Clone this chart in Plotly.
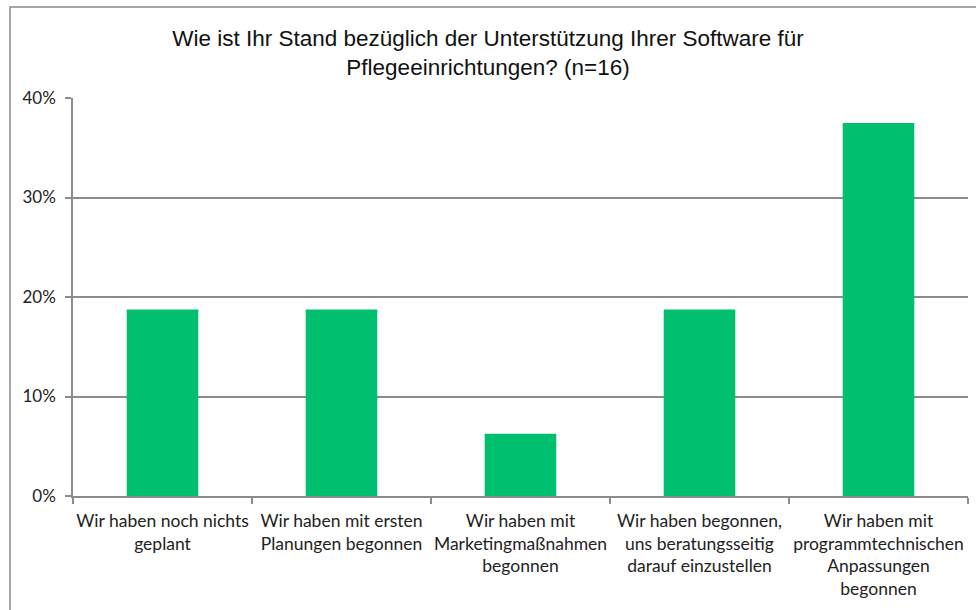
import plotly.graph_objects as go

categories = [
    "Wir haben noch nichts<br>geplant",
    "Wir haben mit ersten<br>Planungen begonnen",
    "Wir haben mit<br>Marketingmaßnahmen<br>begonnen",
    "Wir haben begonnen,<br>uns beratungsseitig<br>darauf einzustellen",
    "Wir haben mit<br>programmtechnischen<br>Anpassungen<br>begonnen",
]
values = [0.1875, 0.1875, 0.0625, 0.1875, 0.375]
y_ticks = [0, 0.1, 0.2, 0.3, 0.4]
y_tick_labels = ["0%", "10%", "20%", "30%", "40%"]
title_text = "Wie ist Ihr Stand bezüglich der Unterstützung Ihrer Software für<br>Pflegeeinrichtungen? (n=16)"

W, H = 976, 610
ml, mr, mt, mb = 73, 8, 98, 114
pw = W - ml - mr
ph = H - mt - mb

fig = go.Figure(go.Bar(
    x=categories, y=values,
    marker=dict(color="#00BF6F", line=dict(width=0)),
    hoverinfo="skip",
))

fig.update_layout(
    width=W, height=H,
    margin=dict(l=ml, r=mr, t=mt, b=mb, autoexpand=False),
    paper_bgcolor="white", plot_bgcolor="white",
    bargap=0.6,
    showlegend=False,
    title=dict(
        text=title_text,
        x=0.5, xref="container", xanchor="center",
        y=1 - 46 / H, yref="container", yanchor="top",
        font=dict(family="Liberation Sans, Arial", size=22.5, color="#111"),
    ),
    font=dict(family="Lato, Carlito, Calibri", size=17.5, color="#222"),
)

fig.update_xaxes(
    type="category", automargin=False,
    showline=True, linecolor="#8c8c8c", linewidth=1.5,
    ticks="outside", tickson="boundaries", ticklen=6, tickcolor="#8c8c8c", tickwidth=1.5,
    ticklabelstandoff=8,
    showgrid=False,
    tickfont=dict(family="Lato, Carlito, Calibri", size=17.5, color="#222"),
    tickangle=0,
)
fig.update_yaxes(
    range=[0, 0.4], automargin=False,
    tickvals=y_ticks, ticktext=y_tick_labels,
    showline=True, linecolor="#8c8c8c", linewidth=1.5,
    ticks="outside", ticklen=6, tickcolor="#8c8c8c", tickwidth=1.5,
    ticklabelstandoff=6,
    showgrid=True, gridcolor="#8c8c8c", gridwidth=1.5,
    zeroline=False,
    tickfont=dict(family="Lato, Carlito, Calibri", size=17, color="#222"),
)

# outer chart border
fig.add_shape(
    type="rect", xref="paper", yref="paper",
    x0=(10 - ml) / pw, x1=1.2,
    y0=-1.0, y1=(H - mb - 7) / ph,
    line=dict(color="#8c8c8c", width=1.5),
    fillcolor="rgba(0,0,0,0)", layer="below",
)

fig.write_html("out.html", config={"displayModeBar": False},
               post_script="document.body.style.margin='0';")
